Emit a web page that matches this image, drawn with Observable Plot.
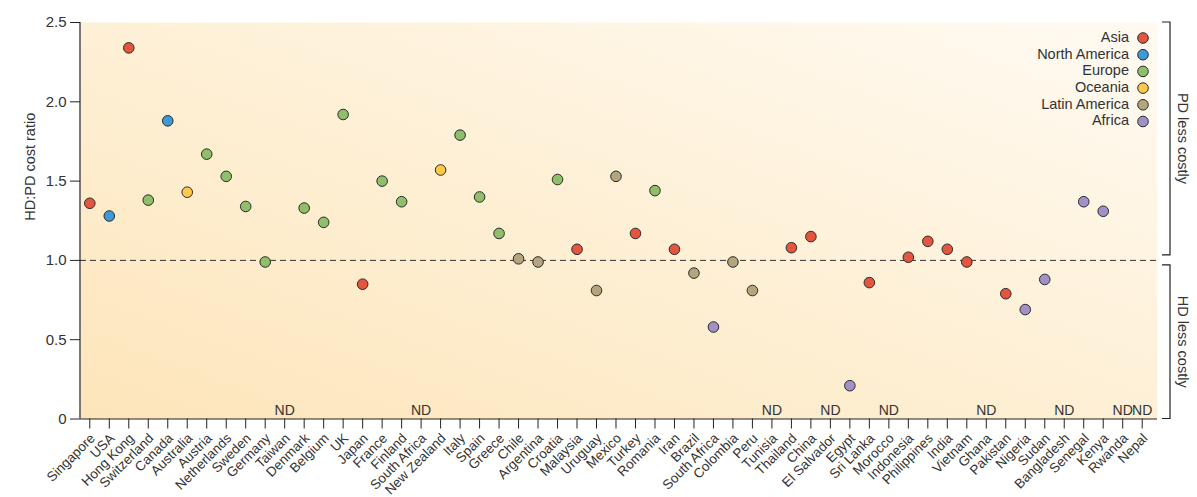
<!DOCTYPE html>
<html><head><meta charset="utf-8">
<script src="https://cdn.jsdelivr.net/npm/d3@7"></script>
<script src="https://cdn.jsdelivr.net/npm/@observablehq/plot@0.6"></script>
<style>body{margin:0;background:#fff;} #chart{position:relative;width:1197px;height:497px;}</style>
</head><body><div id="chart"></div>
<script>
const countries = ["Singapore","USA","Hong Kong","Switzerland","Canada","Australia","Austria","Netherlands","Sweden","Germany","Taiwan","Denmark","Belgium","UK","Japan","France","Finland","South Africa","New Zealand","Italy","Spain","Greece","Chile","Argentina","Croatia","Malaysia","Uruguay","Mexico","Turkey","Romania","Iran","Brazil","South Africa","Colombia","Peru","Tunisia","Thailand","China","El Salvador","Egypt","Sri Lanka","Morocco","Indonesia","Philippines","India","Vietnam","Ghana","Pakistan","Nigeria","Sudan","Bangladesh","Senegal","Kenya","Rwanda","Nepal"];
const regions = ["Asia","North America","Asia","Europe","North America","Oceania","Europe","Europe","Europe","Europe","Asia","Europe","Europe","Europe","Asia","Europe","Europe","Africa","Oceania","Europe","Europe","Europe","Latin America","Latin America","Europe","Asia","Latin America","Latin America","Asia","Europe","Asia","Latin America","Africa","Latin America","Latin America","Africa","Asia","Asia","Latin America","Africa","Asia","Africa","Asia","Asia","Asia","Asia","Africa","Asia","Africa","Africa","Asia","Africa","Africa","Africa","Asia"];
const ratios = [1.36,1.28,2.34,1.38,1.88,1.43,1.67,1.53,1.34,0.99,null,1.33,1.24,1.92,0.85,1.50,1.37,null,1.57,1.79,1.40,1.17,1.01,0.99,1.51,1.07,0.81,1.53,1.17,1.44,1.07,0.92,0.58,0.99,0.81,null,1.08,1.15,null,0.21,0.86,null,1.02,1.12,1.07,0.99,null,0.79,0.69,0.88,null,1.37,1.31,null,null];
const regionNames = ["Asia","North America","Europe","Oceania","Latin America","Africa"];
const regionColors = ["#e3553f","#3d9ad6","#8fbf6b","#fdc94c","#b4a57e","#a291c6"];
const yTicks = [0,0.5,1.0,1.5,2.0,2.5];
const yTickLabels = ["0","0.5","1.0","1.5","2.0","2.5"];
const missingLabel = "ND";
const yTitle = "HD:PD cost ratio";
const bracketLabels = ["PD less costly","HD less costly"];

const rows = countries.map((name,i)=>({i, name, region: regions[i], ratio: ratios[i]}));
const measured = rows.filter(d=>d.ratio!=null);
const missing = rows.filter(d=>d.ratio==null);
const FONT = "'Liberation Sans', Arial, sans-serif";
const INK = "#333";

const chart = Plot.plot({
  width:1197, height:497, marginLeft:80, marginRight:40, marginTop:22, marginBottom:78.5,
  style:{fontFamily:FONT, fontSize:"13px", color:INK, background:"transparent", overflow:"visible"},
  x:{type:"linear", domain:[-0.477, 54.785], axis:null},
  y:{domain:[0,2.5], axis:null},
  color:{domain:regionNames, range:regionColors},
  marks:[
    Plot.frame({fill:"url(#bgGrad)", stroke:null}),
    Plot.ruleY([1],{stroke:"#333", strokeDasharray:"6,4", strokeWidth:1}),
    Plot.ruleY([0],{stroke:"#222", strokeWidth:1.2}),
    Plot.axisY(yTicks,{tickSize:10, tickPadding:4, tickFormat:d=>yTickLabels[yTicks.indexOf(d)], fontSize:15, label:null, stroke:"#222", fill:INK}),
    Plot.axisX(rows.map(d=>d.i),{tickSize:10, tickFormat:()=>"", label:null, stroke:"#222"}),
    Plot.text(rows,{x:"i", y:()=>0, text:"name", rotate:-45, textAnchor:"end", lineAnchor:"middle", dx:3, dy:17, fontSize:13.5, fill:INK}),
    Plot.text(missing,{x:"i", y:()=>0, text:()=>missingLabel, dy:-8.5, fontSize:14, fill:INK}),
    Plot.text([yTitle],{frameAnchor:"left", rotate:-90, dx:-50, fontSize:14.5, fill:INK}),
    Plot.dot(measured,{x:"i", y:"ratio", fill:"region", stroke:"#2a2a2a", strokeWidth:1, r:5.3})
  ]
});

const svg = d3.select(chart);
const defs = svg.insert("defs", ":first-child");
const g = defs.append("linearGradient").attr("id","bgGrad").attr("x1",0).attr("y1",1).attr("x2",1).attr("y2",0);
g.append("stop").attr("offset","0%").attr("stop-color","#fde5ba");
g.append("stop").attr("offset","50%").attr("stop-color","#fef0d6");
g.append("stop").attr("offset","100%").attr("stop-color","#fffaf2");

const ys = chart.scale("y");
const y0 = ys.apply(0), y1 = ys.apply(1), yTop = ys.apply(2.5);
svg.append("line").attr("x1",80).attr("x2",80).attr("y1",yTop).attr("y2",y0).attr("stroke","#222").attr("stroke-width",1.2);

const bx = 1170, bx0 = 1162;
const brackets = [[yTop, y1-5],[y1+5, y0]];
brackets.forEach(([a,b],k)=>{
  svg.append("path").attr("d",`M${bx0},${a}H${bx}V${b}H${bx0}`).attr("fill","none").attr("stroke","#222").attr("stroke-width",1.2);
  svg.append("text").attr("transform",`translate(${1182},${(a+b)/2}) rotate(90)`)
    .attr("text-anchor","middle").attr("dominant-baseline","middle")
    .attr("font-family",FONT).attr("font-size",14.5).attr("fill",INK).text(bracketLabels[k]);
});

const lg = svg.append("g");
regionNames.forEach((r,k)=>{
  const yy = 38 + k*16.7;
  lg.append("circle").attr("cx",1143).attr("cy",yy).attr("r",5.3).attr("fill",regionColors[k]).attr("stroke","#2a2a2a").attr("stroke-width",1);
  lg.append("text").attr("x",1129).attr("y",yy).attr("text-anchor","end").attr("dominant-baseline","middle")
    .attr("font-family",FONT).attr("font-size",14.5).attr("fill",INK).text(r);
});

document.getElementById("chart").appendChild(chart);
</script>
</body></html>
